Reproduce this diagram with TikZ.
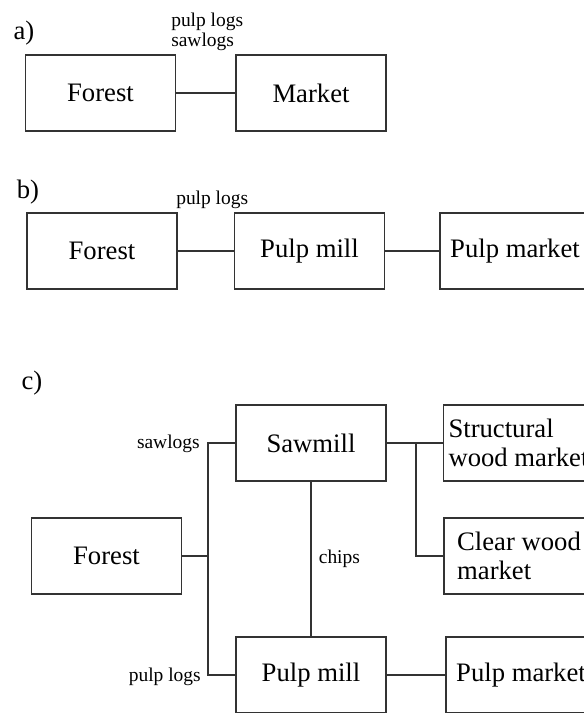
\documentclass[tikz,border=0pt]{standalone}
\usepackage{fontspec}
\setmainfont{Liberation Serif}
\tikzset{
    box/.style={draw=black!80,line width=0.8pt,minimum width=112.5pt,minimum height=57pt,
        inner sep=0pt,align=left,font=\fontsize{20}{22}\selectfont},
    lbl/.style={inner sep=0pt,font=\fontsize{14.6}{15}\selectfont},
    tag/.style={inner sep=0pt,font=\fontsize{20}{22}\selectfont},
    wire/.style={draw=black!80,line width=0.8pt},
}

\begin{document}
\begin{tikzpicture}[x=0.75pt,y=-0.75pt]
\useasboundingbox (0,0) rectangle (584,713);
\clip (0,0) rectangle (584,713);
\node[tag] (ta) at (24,33) {a)};
\node[box] (foresta) at (100.5,93) {Forest};
\node[box] (market) at (311,93) {Market};
\draw[wire] (foresta.east) -- (market.west);
\node[lbl,align=left,anchor=north west] (loga) at (171,12.7) {pulp logs\\sawlogs};
\node[tag] (tb) at (28,192) {b)};
\node[box] (forestb) at (102,251) {Forest};
\node[box] (pulpb) at (309.5,251) {Pulp mill};
\node[box] (pmktb) at (515,251) {Pulp market};
\draw[wire] (forestb.east) -- (pulpb.west);
\draw[wire] (pulpb.east) -- (pmktb.west);
\node[lbl,anchor=base west] (logb) at (176,204) {pulp logs};
\node[tag] (tc) at (32,383) {c)};
\node[box] (saw) at (311,443) {Sawmill};
\node[box] (struct) at (518.5,443) {Structural\\wood market};
\node[box] (clear) at (519,556) {Clear wood\\market};
\node[box] (forestc) at (106.5,556) {Forest};
\node[box] (pulpc) at (311,675) {Pulp mill};
\node[box] (pmktc) at (521,675) {Pulp market};
\coordinate (split) at (208,556);
\coordinate (fork) at (416,443);
\draw[wire] (forestc.east) -- (split);
\draw[wire] (saw.west) -| (split) |- (pulpc.west);
\draw[wire] (saw.east) -- (struct.west);
\draw[wire] (fork) |- (clear.west);
\draw[wire] (saw.south) -- node[lbl,anchor=west,xshift=5.5pt] (chips) {chips} (pulpc.north);
\draw[wire] (pulpc.east) -- (pmktc.west);
\node[lbl,anchor=east] (sawlog) at (200,444) {sawlogs};
\node[lbl,anchor=east] (pulplog) at (201,677) {pulp logs};
\end{tikzpicture}
\end{document}
